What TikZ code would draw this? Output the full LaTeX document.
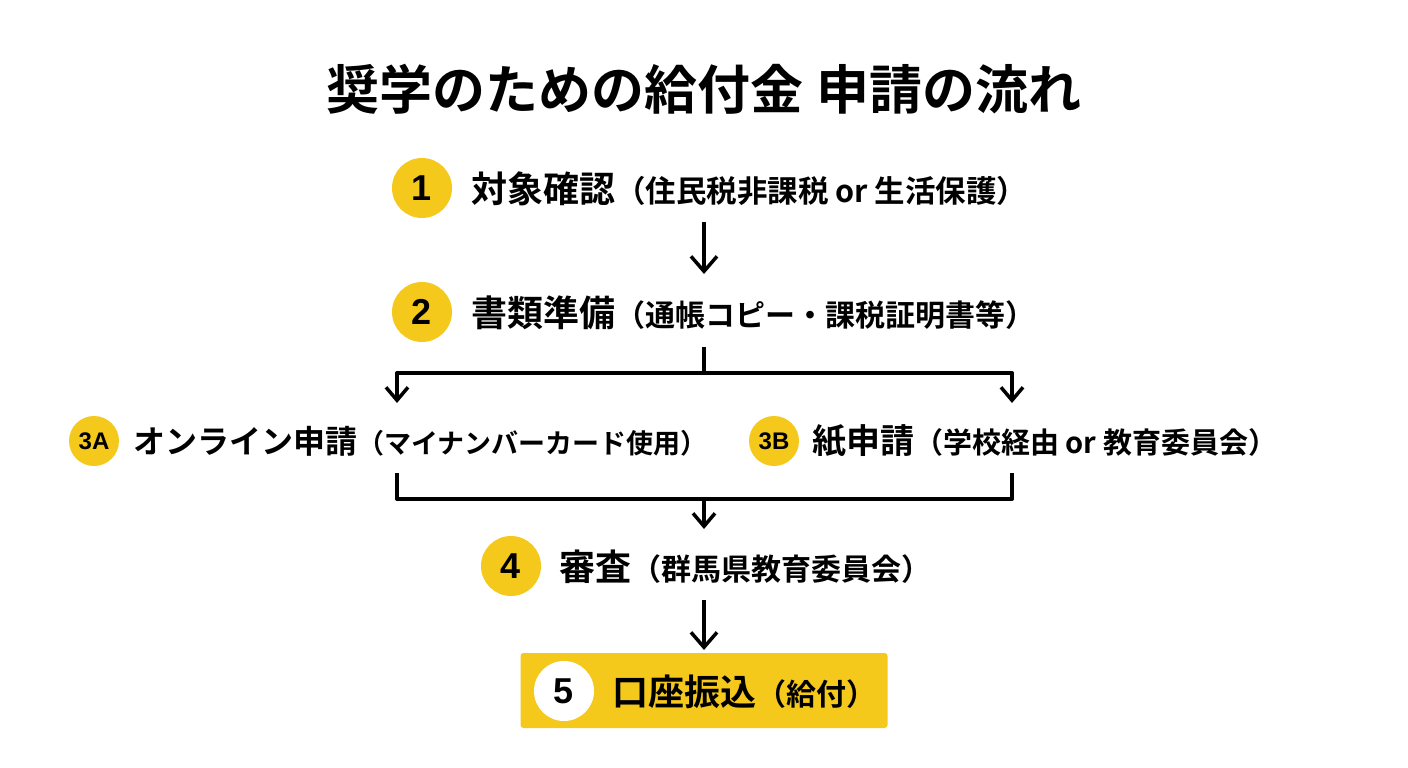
\documentclass[tikz,border=0pt]{standalone}
\usepackage{fontspec}
\setmainfont{Noto Sans CJK JP}[BoldFont={Noto Sans CJK JP Bold}]
\newfontfamily\num{Liberation Sans}[BoldFont={Liberation Sans Bold}]
\usetikzlibrary{arrows.meta}
\definecolor{yel}{HTML}{F5C81C}
\tikzset{
 px/.style={x=1pt,y=-1pt},
 badge/.style={circle,fill=yel,minimum size=60pt,inner sep=0pt,font=\num\bfseries\fontsize{36}{36}\selectfont},
 smallbadge/.style={circle,fill=yel,minimum size=50pt,inner sep=0pt,font=\num\bfseries\fontsize{24}{24}\selectfont},
 lab/.style={anchor=west,inner sep=0pt,font=\bfseries\fontsize{36}{36}\selectfont},
 labc/.style={anchor=west,inner sep=0pt,font=\bfseries\fontsize{32}{32}\selectfont},
 flow/.style={line width=3.5pt,-{Straight Barb[length=15pt,width=26pt,line width=3.5pt]}},
 shortflow/.style={line width=3.5pt,-{Straight Barb[length=13pt,width=22pt,line width=3.5pt]}},
 line/.style={line width=4pt},
}
\newcommand{\sm}[1]{{\fontsize{30}{30}\selectfont #1}}
\newcommand{\smb}[1]{{\fontsize{27}{27}\selectfont #1}}
\newcommand{\smc}[1]{{\fontsize{29}{29}\selectfont #1}}
\newcommand{\smd}[1]{{\fontsize{30.5}{30.5}\selectfont #1}}
\begin{document}
\begin{tikzpicture}[px]
\useasboundingbox (0,0) rectangle (1408,768);
\node[font=\bfseries\fontsize{53}{53}\selectfont] (title) at (704,89) {奨学のための給付金 申請の流れ};
\node[badge] (b1) at (422,188) {1};
\node[lab] (t1) at (471,189) {対象確認\smd{（住民税非課税 or 生活保護）}};
\node[badge] (b2) at (422,312) {2};
\node[lab] (t2) at (471,313) {書類準備\sm{（通帳コピー・課税証明書等）}};
\node[smallbadge] (b3a) at (94,441) {3A};
\node[labc] (t3a) at (133,441) {オンライン申請\smb{（マイナンバーカード使用）}};
\node[smallbadge] (b3b) at (774,441) {3B};
\node[lab,font=\bfseries\fontsize{34}{34}\selectfont] (t3b) at (812,441) {紙申請\smc{（学校経由 or 教育委員会）}};
\node[badge] (b4) at (511,566) {4};
\node[lab] (t4) at (559,567) {審査\sm{（群馬県教育委員会）}};
\node[fill=yel,rounded corners=3pt,minimum width=367pt,minimum height=75pt] (box) at (704,690.5) {};
\node[circle,fill=white,minimum size=60pt,inner sep=0pt,font=\num\bfseries\fontsize{36}{36}\selectfont] (b5) at (564,691) {5};
\node[lab] (t5) at (612,692) {口座振込\sm{（給付）}};
\coordinate (a1) at (704,222); \coordinate (a2) at (704,274);
\draw[flow] (a1) -- (a2);
\coordinate (s) at (704,347); \coordinate (j) at (704,373);
\coordinate (l) at (397,373); \coordinate (r) at (1012,373);
\coordinate (le) at (397,403); \coordinate (re) at (1012,403);
\draw[line] (s) -- (j);
\draw[line,line cap=round,line join=round] (l) -- (r);
\draw[shortflow] (l) -- (le);
\draw[shortflow] (r) -- (re);
\coordinate (m1) at (397,473); \coordinate (m2) at (397,499); \coordinate (m3) at (1012,499); \coordinate (m4) at (1012,473);
\draw[line,line join=round] (m1) -- (m2) -- (m3) -- (m4);
\coordinate (m5) at (704,499); \coordinate (m6) at (704,529);
\draw[shortflow] (m5) -- (m6);
\coordinate (a3) at (704,600); \coordinate (a4) at (704,650);
\draw[flow] (a3) -- (a4);
\end{tikzpicture}
\end{document}
